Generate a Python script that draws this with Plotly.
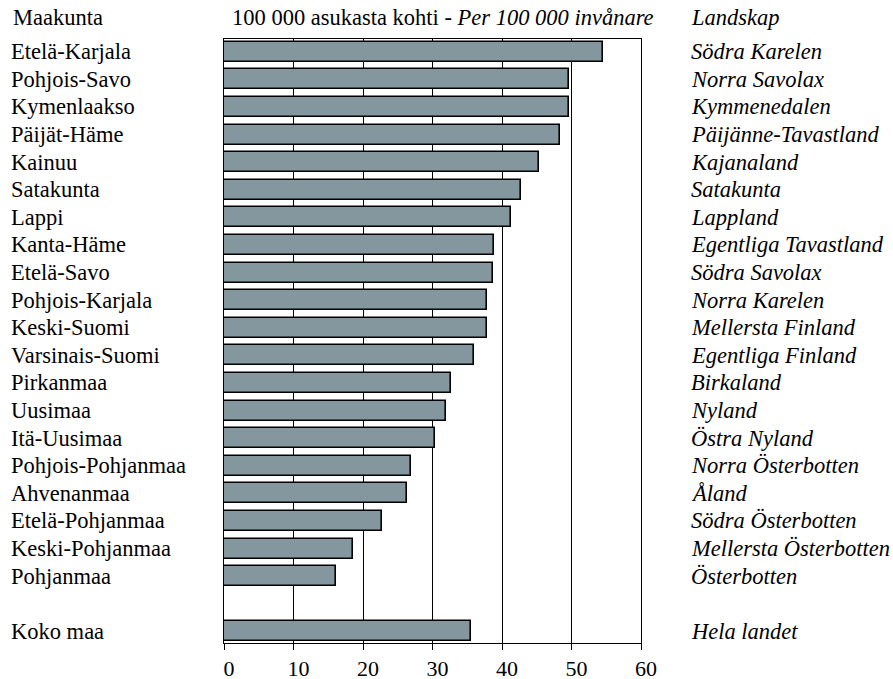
import plotly.graph_objects as go

regions_fi = ["Etelä-Karjala", "Pohjois-Savo", "Kymenlaakso", "Päijät-Häme", "Kainuu",
              "Satakunta", "Lappi", "Kanta-Häme", "Etelä-Savo", "Pohjois-Karjala",
              "Keski-Suomi", "Varsinais-Suomi", "Pirkanmaa", "Uusimaa", "Itä-Uusimaa",
              "Pohjois-Pohjanmaa", "Ahvenanmaa", "Etelä-Pohjanmaa", "Keski-Pohjanmaa",
              "Pohjanmaa"]
regions_sv = ["Södra Karelen", "Norra Savolax", "Kymmenedalen", "Päijänne-Tavastland",
              "Kajanaland", "Satakunta", "Lappland", "Egentliga Tavastland", "Södra Savolax",
              "Norra Karelen", "Mellersta Finland", "Egentliga Finland", "Birkaland",
              "Nyland", "Östra Nyland", "Norra Österbotten", "Åland", "Södra Österbotten",
              "Mellersta Österbotten", "Österbotten"]
values = [54.5, 49.7, 49.6, 48.3, 45.3, 42.7, 41.3, 38.8, 38.7, 37.9,
          37.8, 35.9, 32.6, 32.0, 30.3, 26.9, 26.4, 22.7, 18.5, 16.1]

total_fi = "Koko maa"
total_sv = "Hela landet"
total_value = 35.5

header_left = "Maakunta"
header_mid = "100 000 asukasta kohti - <i>Per 100 000 invånare</i>"
header_right = "<i>Landskap</i>"

x_ticks = [0, 10, 20, 30, 40, 50, 60]

# positions: regions then a blank slot then the total
y_pos = list(range(len(regions_fi))) + [len(regions_fi) + 1]
all_fi = regions_fi + [total_fi]
all_sv = regions_sv + [total_sv]
all_vals = values + [total_value]

FONT = "Liberation Serif"
FS = 22.5

fig = go.Figure()
fig.add_trace(go.Bar(
    x=all_vals, y=y_pos, orientation="h", width=0.725,
    marker=dict(color="#84979f", line=dict(color="#000000", width=1.6)),
    hoverinfo="x",
))

annotations = []
for yp, fi, sv in zip(y_pos, all_fi, all_sv):
    annotations.append(dict(x=-0.516, y=yp, xref="paper", yref="y", text=fi,
                            xanchor="left", yanchor="middle", showarrow=False,
                            font=dict(family=FONT, size=FS, color="black")))
    annotations.append(dict(x=1.114, y=yp, xref="paper", yref="y", text="<i>" + sv + "</i>",
                            xanchor="left", yanchor="middle", showarrow=False,
                            font=dict(family=FONT, size=FS, color="black")))
hy = 1.035
annotations.append(dict(x=-0.51, y=hy, xref="paper", yref="paper", text=header_left,
                        xanchor="left", yanchor="middle", showarrow=False,
                        font=dict(family=FONT, size=FS, color="black")))
annotations.append(dict(x=0.014, y=hy, xref="paper", yref="paper", text=header_mid,
                        xanchor="left", yanchor="middle", showarrow=False,
                        font=dict(family=FONT, size=FS, color="black")))
annotations.append(dict(x=1.114, y=hy, xref="paper", yref="paper", text=header_right,
                        xanchor="left", yanchor="middle", showarrow=False,
                        font=dict(family=FONT, size=FS, color="black")))

fig.update_layout(
    width=893, height=679,
    margin=dict(l=224, r=252, t=39, b=36, autoexpand=False),
    paper_bgcolor="white", plot_bgcolor="white",
    showlegend=False,
    bargap=0,
    annotations=annotations,
    xaxis=dict(range=[0, 60], tickvals=x_ticks, ticktext=[str(t) for t in x_ticks],
               showgrid=True, gridcolor="black", gridwidth=1,
               showline=True, linecolor="black", linewidth=1, mirror=True,
               ticks="outside", ticklen=6, tickcolor="black", tickwidth=1,
               ticklabelshift=5, automargin=False,
               tickfont=dict(family=FONT, size=22, color="black"),
               zeroline=False, fixedrange=True),
    yaxis=dict(range=[21.42, -0.46], showticklabels=False, showgrid=False,
               showline=True, linecolor="black", linewidth=1, mirror=True,
               ticks="", zeroline=False, fixedrange=True, automargin=False),
)

fig.write_html("out.html", config={"displayModeBar": False},
               post_script="document.body.style.margin='0';document.body.style.overflow='hidden';")
